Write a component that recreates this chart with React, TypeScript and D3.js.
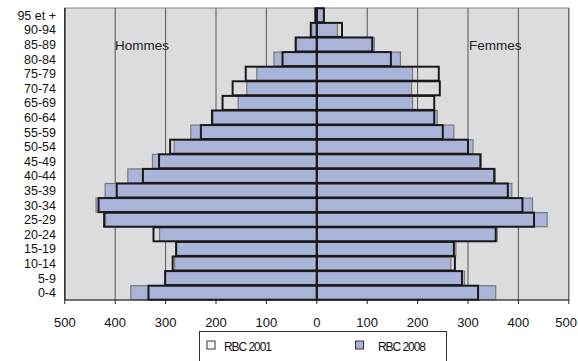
import React from "react";
import * as d3 from "d3";

// Age groups, oldest at the top
const ageGroups = [
  "95 et +", "90-94", "85-89", "80-84", "75-79", "70-74", "65-69", "60-64",
  "55-59", "50-54", "45-49", "40-44", "35-39", "30-34", "25-29", "20-24",
  "15-19", "10-14", "5-9", "0-4",
];

const men2001 = [3, 12, 42, 68, 141, 167, 187, 208, 230, 291, 313, 345, 397, 433, 422, 324, 279, 286, 301, 334];
const men2008 = [2, 10, 40, 85, 119, 139, 156, 206, 250, 283, 326, 375, 420, 438, 419, 312, 280, 282, 300, 369];
const women2001 = [14, 50, 110, 147, 242, 244, 233, 233, 250, 300, 325, 352, 379, 408, 431, 355, 272, 274, 288, 320];
const women2008 = [15, 41, 114, 166, 190, 188, 190, 239, 272, 310, 323, 354, 387, 428, 457, 358, 276, 266, 293, 355];

const xTicks = [-500, -400, -300, -200, -100, 0, 100, 200, 300, 400, 500];
const seriesLabels = ["RBC 2001", "RBC 2008"];

const W = 578;
const H = 361;
const font = "'Liberation Sans', Arial, sans-serif";

export default function App() {
  const left = 64.8;
  const right = 568.8;
  const top = 8;
  const bottom = 300;

  const x = d3.scaleLinear().domain([-500, 500]).range([left, right]);
  const y = d3.scaleBand<string>().domain(ageGroups).range([top, bottom]).paddingInner(0.04).paddingOuter(0.02);
  const bw = y.bandwidth();

  const fill2008 = "#aab4d8";

  const barRect = (v: number, side: number) => {
    const x0 = x(0);
    const x1 = x(side * v);
    return { x: Math.min(x0, x1), w: Math.abs(x1 - x0) };
  };

  return (
    <svg width={W} height={H} style={{ position: "absolute", left: 0, top: 0 }}>
      {/* plot background */}
      <rect x={left} y={top} width={right - left} height={bottom - top} fill="#dcdcdf" stroke="#8a8a8a" strokeWidth={1} />
      {/* vertical gridlines */}
      {xTicks.map((t) => (
        <line key={"g" + t} x1={x(t)} x2={x(t)} y1={top} y2={bottom} stroke="#555" strokeWidth={1} />
      ))}

      {/* 2008 filled bars */}
      {ageGroups.map((g, i) => {
        const m = barRect(men2008[i], -1);
        const f = barRect(women2008[i], 1);
        return (
          <g key={"b08" + g}>
            <rect x={m.x} y={y(g)} width={m.w} height={bw} fill={fill2008} stroke="#7a7a7a" strokeWidth={1.2} />
            <rect x={f.x} y={y(g)} width={f.w} height={bw} fill={fill2008} stroke="#7a7a7a" strokeWidth={1.2} />
          </g>
        );
      })}

      {/* 2001 outline bars */}
      {ageGroups.map((g, i) => {
        const m = barRect(men2001[i], -1);
        const f = barRect(women2001[i], 1);
        return (
          <g key={"b01" + g}>
            <rect x={m.x} y={y(g)} width={m.w} height={bw} fill="none" stroke="#1a1a1a" strokeWidth={2} />
            <rect x={f.x} y={y(g)} width={f.w} height={bw} fill="none" stroke="#1a1a1a" strokeWidth={2} />
          </g>
        );
      })}

      {/* left border and bottom axis */}
      <line x1={left} x2={left} y1={top} y2={bottom} stroke="#222" strokeWidth={1.2} />
      <line x1={left} x2={right} y1={bottom} y2={bottom} stroke="#222" strokeWidth={1.2} />
      {xTicks.map((t, i) => {
        const last = i === xTicks.length - 1;
        return (
          <g key={"t" + t}>
            <line x1={x(t)} x2={x(t)} y1={bottom} y2={bottom + 4} stroke="#222" strokeWidth={1} />
            <text
              x={last ? W - 1 : x(t)}
              y={327}
              textAnchor={last ? "end" : "middle"}
              fontFamily={font}
              fontSize={13}
              fill="#111"
            >
              {Math.abs(t)}
            </text>
          </g>
        );
      })}

      {/* age group labels */}
      {ageGroups.map((g) => (
        <text key={"l" + g} x={56} y={(y(g) as number) + bw / 2 + 4.4} textAnchor="end" fontFamily={font} fontSize={12.5} fill="#111">
          {g}
        </text>
      ))}

      <text x={115} y={50} fontFamily={font} fontSize={13.5} fill="#222">Hommes</text>
      <text x={469} y={50} fontFamily={font} fontSize={13.5} fill="#222">Femmes</text>

      {/* legend */}
      <rect x={199.5} y={331.5} width={247} height={30} fill="#fff" stroke="#333" strokeWidth={1} />
      <rect x={207} y={341} width={8} height={8} fill="#fff" stroke="#333" strokeWidth={1} />
      <text x={224} y={351} fontFamily={font} fontSize={12} fill="#111" textLength={48}>{seriesLabels[0]}</text>
      <rect x={355.5} y={341} width={8} height={8} fill={fill2008} stroke="#333" strokeWidth={1} />
      <text x={378} y={351} fontFamily={font} fontSize={12} fill="#111" textLength={48}>{seriesLabels[1]}</text>
    </svg>
  );
}
